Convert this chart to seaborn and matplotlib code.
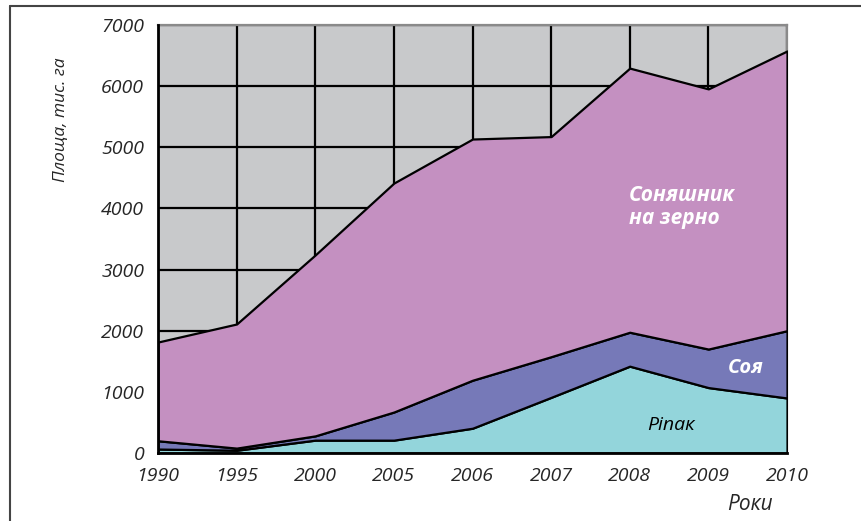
import numpy as np
import matplotlib
matplotlib.use('Agg')
import matplotlib.pyplot as plt
import seaborn as sns
from matplotlib.lines import Line2D

# дані
roky = ['1990', '1995', '2000', '2005', '2006', '2007', '2008', '2009', '2010']
ripak = [65, 45, 210, 210, 405, 910, 1420, 1070, 900]
soia = [135, 35, 70, 460, 785, 665, 555, 630, 1100]
soniashnyk = [1615, 2030, 2960, 3745, 3945, 3600, 4320, 4255, 4575]

kolory = ['#93D5DB', '#7679B8', '#C490C1']

sns.set_style('white')
plt.rcParams['font.family'] = ['Open Sans', 'DejaVu Sans']

fig = plt.figure(figsize=(8.61, 5.21), dpi=100)
ax = fig.add_axes([158 / 861, 1 - 453 / 521, (787 - 158) / 861, (453 - 25) / 521])
ax.set_facecolor('#C8C9CB')

x = np.arange(len(roky))
ax.stackplot(x, ripak, soia, soniashnyk, colors=kolory,
             edgecolor='black', linewidth=1.6, zorder=3)

ax.set_xlim(0, len(roky) - 1)
ax.set_ylim(0, 7000)
ax.set_xticks(x)
ax.set_xticklabels(roky)
ax.set_yticks(range(0, 7001, 1000))

ax.grid(True, color='black', linewidth=1.6, zorder=1)
ax.set_axisbelow(True)

for lab in ax.get_xticklabels() + ax.get_yticklabels():
    lab.set_fontstyle('italic')
    lab.set_fontsize(14)
ax.tick_params(axis='both', direction='out', length=7, width=1.6, color='black')
ax.tick_params(axis='x', pad=3)
ax.tick_params(axis='y', pad=3)

for s in ['left', 'bottom']:
    ax.spines[s].set_color('black')
    ax.spines[s].set_linewidth(2)
    ax.spines[s].set_zorder(5)
for s in ['top', 'right']:
    ax.spines[s].set_color('#8A8A8A')
    ax.spines[s].set_linewidth(1.6)

# підписи осей
fig.text(61 / 861, 1 - 57 / 521, 'Площа, тис. га', rotation=90, ha='center', va='top',
         fontsize=12.5, fontstyle='italic')
fig.text(773 / 861, 1 - 505 / 521, 'Роки', ha='right', va='center',
         fontsize=15, fontstyle='italic')

# підписи культур
ax.text(5.99, 4020, 'Соняшник\nна зерно', color='white', fontsize=15,
        fontweight='bold', fontstyle='italic', ha='left', va='center', linespacing=1.15)
ax.text(7.48, 1390, 'Соя', color='white', fontsize=14.5, fontweight='bold',
        fontstyle='italic', ha='center', va='center')
ax.text(6.53, 458, 'Ріпак', color='black', fontsize=14, fontstyle='italic',
        ha='center', va='center')

# рамка
fig.add_artist(Line2D([10 / 861, 10 / 861], [0, 1 - 6 / 521], transform=fig.transFigure,
                      color='#444444', linewidth=1.5))
fig.add_artist(Line2D([10 / 861, 1], [1 - 6 / 521, 1 - 6 / 521], transform=fig.transFigure,
                      color='#444444', linewidth=1.5))

fig.savefig('out.png', dpi=100)
